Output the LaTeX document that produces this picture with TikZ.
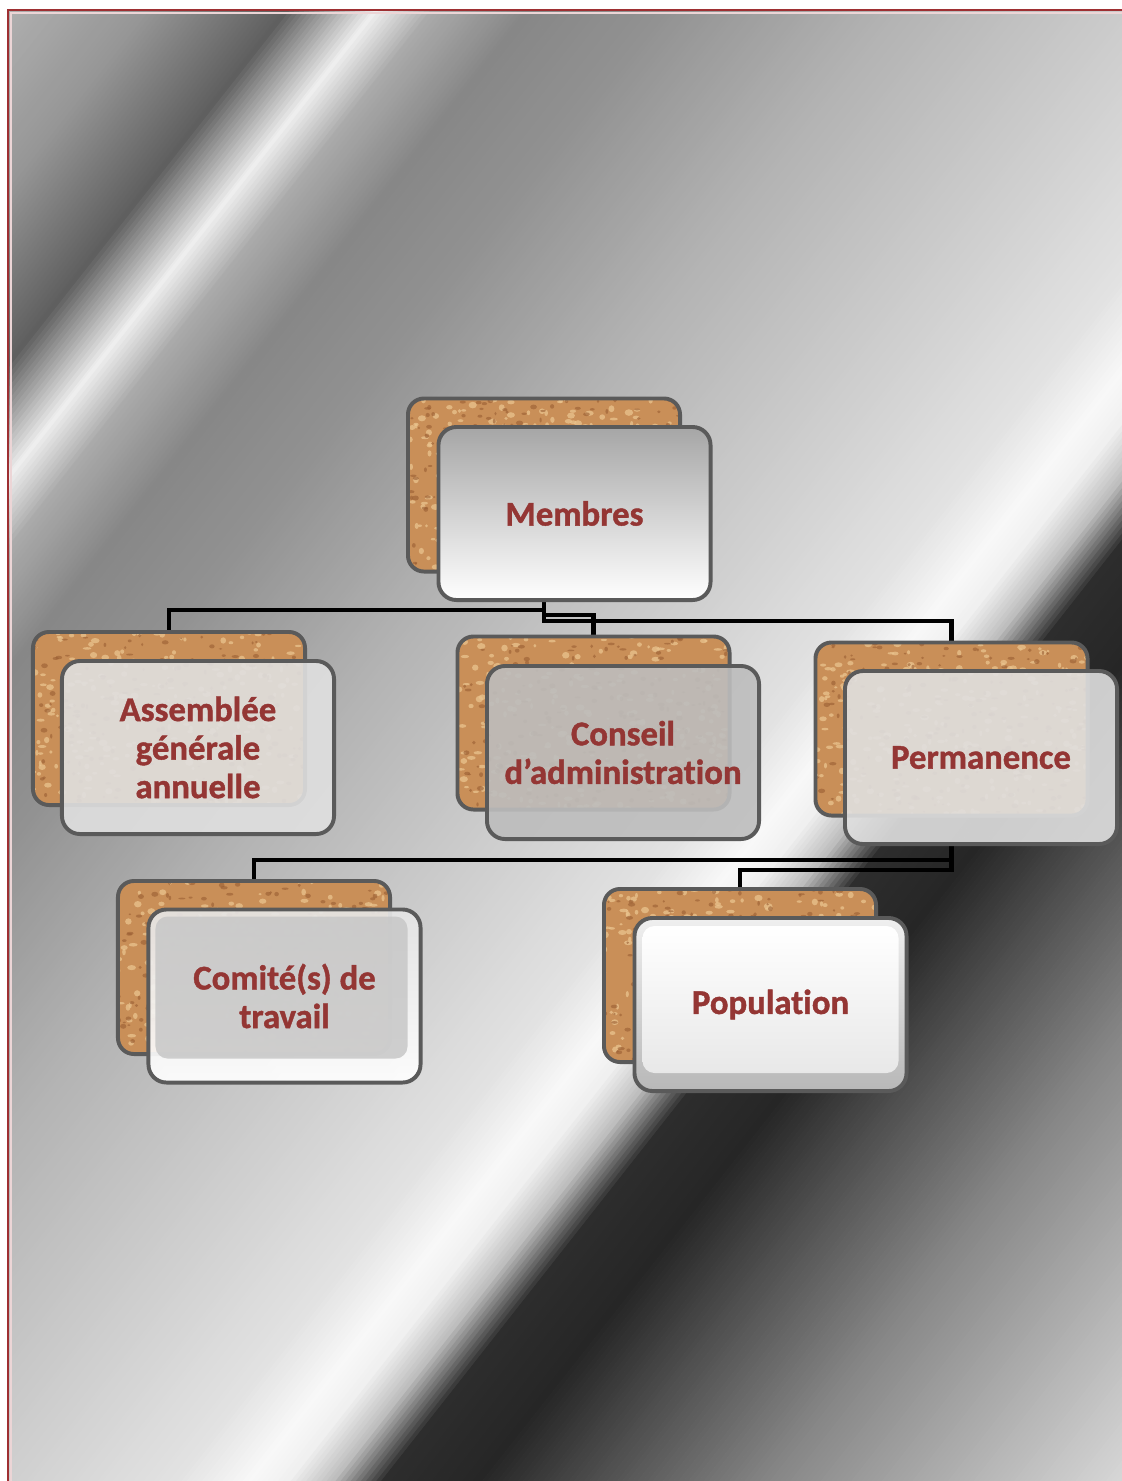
\documentclass[tikz,border=0pt]{standalone}
\usepackage{fontspec}
\setmainfont{Carlito}[BoldFont={Carlito Bold}, BoldFeatures={FakeBold=1.2}, Ligatures=NoCommon]
\usetikzlibrary{calc}
\pgfdeclarelayer{bg}
\pgfdeclarelayer{wires}
\pgfsetlayers{bg,wires,main}
\definecolor{txtred}{HTML}{943634}
\definecolor{edgegray}{HTML}{5A5A5A}
\definecolor{corkbase}{HTML}{C98F58}
\definecolor{corkdark}{HTML}{9A5E33}
\definecolor{corklight}{HTML}{EAC48E}
\definecolor{framered}{HTML}{9E2F32}
\tikzset{
  corkbox/.style={draw=edgegray, line width=2.8pt, rounded corners=0.4cm, fill=corkbase,
    minimum width=6.8cm, minimum height=4.325cm, inner sep=0pt,
    path picture={
      \foreach \i in {1,...,260}{
        \fill[corklight, opacity=0.75] ($(path picture bounding box.north west)+({rnd*280},{rnd*180})$) ellipse[x radius={(1+rnd*2.2)*1pt}, y radius={(0.8+rnd*1.6)*1pt}];
      }
      \foreach \i in {1,...,200}{
        \fill[corkdark, opacity=0.6] ($(path picture bounding box.north west)+({rnd*280},{rnd*180})$) ellipse[x radius={(0.8+rnd*1.8)*1pt}, y radius={(0.6+rnd*1.2)*1pt}];
      }
    }},
  frontbox/.style={draw=edgegray, line width=2.8pt, rounded corners=0.45cm,
    minimum width=6.8cm, minimum height=4.325cm, inner sep=0pt},
  lbl/.style={text=txtred, font=\fontsize{24.7pt}{27.4pt}\selectfont\bfseries, align=center, inner sep=0pt},
  conn/.style={draw=black, line width=3pt}
}
\begin{document}
\begin{tikzpicture}[x=0.025cm, y=-0.025cm]
\pgfmathsetseed{7}
\useasboundingbox (0,0) rectangle (1122,1481);
\begin{pgfonlayer}{bg}
\fill[white] (0,0) rectangle (1122,1481);
\begin{scope}
\clip (8,10) rectangle (1122,1481);
\foreach \ta/\ga/\tb/\gb in {-20/182/120/150, 120/150/230/95, 230/95/262/160, 262/160/300/238, 300/238/345/170, 345/170/420/135, 420/135/520/145, 520/145/700/178, 700/178/900/205, 900/205/1050/226, 1050/226/1110/248, 1110/248/1140/240, 1140/240/1175/190, 1175/190/1215/45, 1215/45/1290/38, 1290/38/1380/78, 1380/78/1520/135, 1520/135/1830/225} {
  \pgfmathtruncatemacro\nn{(\tb-\ta)/4}
  \foreach \k in {0,...,\nn} {
    \pgfmathsetmacro\tv{\ta+4*\k}
    \pgfmathsetmacro\fr{(4*\k)/(\tb-\ta)}
    \pgfmathsetmacro\pc{100-(\ga+(\gb-\ga)*\fr)/2.55}
    \fill[black!\pc] ({\tv*0.786+990},{\tv*0.619-1258}) -- ({\tv*0.786-990},{\tv*0.619+1258}) -- ({(\tv+4.6)*0.786-990},{(\tv+4.6)*0.619+1258}) -- ({(\tv+4.6)*0.786+990},{(\tv+4.6)*0.619-1258}) -- cycle;
  }
}
\end{scope}
\draw[white!80!framered, line width=0.8pt] (11,1481) -- (11,13) -- (1122,13);
\draw[framered, line width=2pt] (8,1481) -- (8,10) -- (1122,10);
\end{pgfonlayer}

% Membres
\node[corkbox] (membresB) at (544,485) {};
\node[frontbox, top color=black!35, bottom color=white] (membresF) at (574.5,513.5) {};
\node[lbl] (tMembres) at (membresF) {Membres};

% Assemblee
\node[corkbox] (assemB) at (169,718.5) {};
\node[frontbox, fill=black!12, fill opacity=0.9] (assemF) at (198,747.5) {};
\node[lbl] (tAssem) at (assemF) {Assemblée\\générale\\annuelle};

% Conseil
\node[corkbox] (conseilB) at (593.5,723) {};
\node[frontbox, fill=black!26, fill opacity=0.9] (conseilF) at (623,752.5) {};
\node[lbl] (tConseil) at (conseilF) {Conseil\\d’administration};

% Permanence
\node[corkbox] (permB) at (951.5,729) {};
\node[frontbox, fill=black!12, fill opacity=0.9] (permF) at (981,757.5) {};
\node[lbl] (tPerm) at (permF) {Permanence};

% Comite
\node[corkbox] (comiteB) at (254,967.5) {};
\node[frontbox, top color=black!10, bottom color=white, fill opacity=0.92] (comiteF) at (284.5,996) {};
\fill[black!22, fill opacity=0.85, rounded corners=0.3cm] ($(comiteF.north west)+(9,9)$) rectangle ($(comiteF.south east)+(-15,-26)$);
\node[lbl] (tComite) at (comiteF) {Comité(s) de\\travail};

% Population
\node[corkbox] (popB) at (740,975.5) {};
\node[frontbox, top color=black!6, bottom color=black!28] (popF) at (770.5,1004.5) {};
\shade[top color=white, bottom color=black!9, rounded corners=0.3cm] ($(popF.north west)+(10,10)$) rectangle ($(popF.south east)+(-10,-20)$);
\node[lbl] (tPop) at (popF) {Population};

\begin{pgfonlayer}{wires}
\draw[conn] (membresB.center |- membresF.south) -- ++(0,8) -| (assemB.north);
\draw[conn] (membresB.center |- membresF.south) -- ++(0,13) -| (conseilB.north);
\draw[conn] (membresB.center |- membresF.south) -- ++(0,19) -| (permB.north);
\draw[conn] (permB.center |- permF.south) -- ++(0,14) -| (comiteB.north);
\draw[conn] (permB.center |- permF.south) -- ++(0,24) -| (popB.north);
\end{pgfonlayer}
\end{tikzpicture}
\end{document}
